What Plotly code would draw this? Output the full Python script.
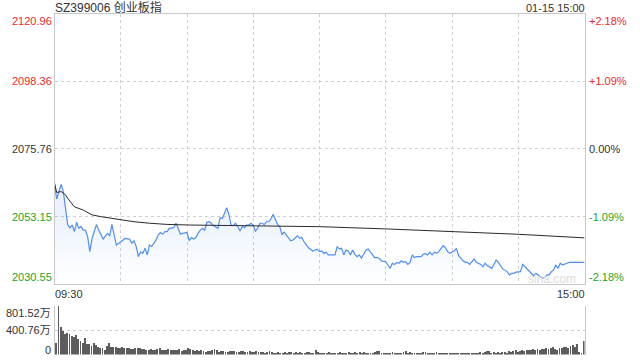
import plotly.graph_objects as go

# ---------------- data ----------------
title_text = "SZ399006 创业板指"
date_text = "01-15 15:00"
prev_close = 2075.76
y_ticks = [2120.96, 2098.36, 2075.76, 2053.15, 2030.55]
pct_ticks = ["+2.18%", "+1.09%", "0.00%", "-1.09%", "-2.18%"]
vol_ticks = [801.52, 400.76, 0]
vol_tick_labels = ["801.52万", "400.76万", "0"]
time_labels = ["09:30", "15:00"]

# minute index (0 = 09:30, 120 = 11:30/13:00, 240 = 15:00)
price_min = [0, 1, 2, 3, 4, 5, 6, 7, 8, 9, 10, 11, 12, 13, 14, 15, 16, 17, 19, 20,
             21, 22, 23, 24, 25, 26, 27, 28, 30, 31, 32, 34, 35, 36, 37, 38, 39, 40, 41, 42,
             43, 44, 46, 47, 48, 49, 50, 51, 52, 54, 55, 56, 57, 58, 60, 61, 62, 63, 64, 65,
             66, 67, 68, 69, 70, 71, 72, 74, 75, 76, 77, 78, 79, 80, 81, 82, 83, 84, 85, 86,
             87, 88, 89, 90, 91, 92, 93, 94, 95, 96, 97, 98, 99, 100, 101, 102, 103, 104, 105, 106,
             107, 108, 109, 110, 111, 112, 113, 114, 115, 117, 118, 119, 120, 121, 122, 123, 124, 126, 127, 128,
             129, 130, 131, 132, 133, 134, 135, 136, 137, 138, 139, 140, 141, 142, 143, 144, 145, 146, 147, 148,
             150, 151, 152, 153, 154, 155, 156, 157, 158, 159, 160, 161, 162, 163, 164, 166, 167, 168, 169, 170,
             171, 172, 173, 174, 175, 176, 177, 178, 179, 180, 181, 182, 183, 184, 185, 186, 187, 188, 189, 190,
             191, 192, 193, 194, 195, 196, 197, 198, 199, 200, 201, 202, 203, 205, 206, 207, 208, 209, 210, 211,
             212, 213, 214, 215, 216, 217, 218, 219, 220, 221, 222, 223, 224, 225, 226, 227, 228, 229, 230, 231,
             232, 233, 235, 237, 240]
price = [2064.3, 2059.0, 2061.5, 2063.9, 2061.5, 2055.9, 2050.3, 2049.4, 2050.3, 2048.1,
         2051.2, 2049.2, 2049.8, 2048.6, 2048.6, 2046.4, 2041.4, 2045.8, 2050.5, 2048.6,
         2047.0, 2045.6, 2046.6, 2047.5, 2046.7, 2050.5, 2047.0, 2043.6, 2044.7, 2045.3,
         2045.8, 2045.6, 2044.2, 2045.0, 2043.1, 2039.7, 2041.4, 2040.8, 2042.5, 2040.3,
         2043.6, 2043.1, 2045.3, 2047.0, 2047.8, 2047.2, 2048.1, 2048.1, 2049.2, 2049.4,
         2050.9, 2049.2, 2047.2, 2047.5, 2047.8, 2045.1, 2046.1, 2045.6, 2046.1, 2047.5,
         2048.6, 2049.2, 2048.6, 2051.2, 2051.4, 2050.9, 2050.1, 2049.2, 2052.8, 2052.5,
         2054.6, 2056.1, 2053.7, 2050.3, 2050.1, 2050.9, 2049.8, 2048.3, 2049.8, 2049.4,
         2050.3, 2050.3, 2050.9, 2050.1, 2048.3, 2049.2, 2050.9, 2050.9, 2050.5, 2051.4,
         2051.4, 2052.3, 2053.9, 2052.0, 2050.5, 2049.8, 2047.2, 2047.9, 2047.0, 2045.9,
         2045.0, 2045.3, 2045.9, 2046.7, 2045.9, 2046.1, 2044.7, 2043.6, 2042.7, 2041.6,
         2041.9, 2042.2, 2041.4, 2041.6, 2040.8, 2041.2, 2040.3, 2040.3, 2040.3, 2043.0,
         2042.3, 2042.5, 2040.3, 2041.9, 2041.6, 2040.3, 2041.9, 2040.5, 2039.7, 2040.3,
         2039.2, 2040.5, 2041.9, 2042.3, 2041.2, 2040.3, 2039.4, 2039.4, 2039.2, 2038.3,
         2038.0, 2036.9, 2035.8, 2037.5, 2037.1, 2037.8, 2037.5, 2038.3, 2037.8, 2038.0,
         2037.1, 2037.8, 2040.3, 2039.4, 2039.7, 2039.7, 2040.5, 2040.8, 2040.3, 2041.2,
         2040.3, 2041.2, 2040.8, 2041.4, 2042.3, 2043.4, 2042.7, 2041.4, 2040.8, 2041.2,
         2041.6, 2042.5, 2040.0, 2039.2, 2038.3, 2037.8, 2037.8, 2037.1, 2038.0, 2038.9,
         2037.8, 2037.5, 2037.1, 2036.3, 2037.5, 2036.7, 2036.3, 2035.8, 2037.1, 2038.6,
         2037.8, 2036.9, 2035.6, 2034.7, 2033.6, 2034.1, 2034.1, 2034.5, 2034.7, 2034.7,
         2037.1, 2036.3, 2035.6, 2034.7, 2033.8, 2033.3, 2034.1, 2033.6, 2033.0, 2032.5,
         2032.7, 2033.6, 2033.6, 2034.7, 2035.2, 2036.9, 2035.8, 2037.5, 2036.9, 2037.1,
         2037.5, 2037.8, 2037.8, 2037.7, 2037.8]

avg_min = [0, 1, 3, 5, 6, 9, 13, 16, 17, 21, 28, 36, 43, 51, 61, 90, 120, 150, 181, 210, 240]
avg_price = [2064.3, 2061.2, 2061.5, 2060.4, 2059.2, 2056.4, 2055.3, 2054.2, 2053.7, 2053.1,
             2052.3, 2051.4, 2050.9, 2050.5, 2050.3, 2050.1, 2049.75, 2049.0, 2048.1, 2047.2,
             2046.0]

volume = [190, 801.52, 450, 395, 340, 363, 336, 314, 287, 325, 255, 233, 200, 282, 173, 184, 152, 195, 162, 135,
          119, 108, 81, 152, 190, 135, 135, 125, 120, 110, 125, 108, 115, 120, 105, 95, 108, 115, 120, 105,
          100, 85, 75, 98, 85, 80, 102, 108, 90, 85, 80, 98, 75, 85, 78, 90, 100, 70, 75, 85,
          115, 95, 80, 65, 85, 60, 75, 70, 55, 65, 72, 85, 100, 75, 55, 70, 62, 55, 48, 65,
          60, 58, 52, 55, 65, 60, 50, 45, 58, 55, 50, 60, 42, 48, 55, 40, 45, 70, 50, 38,
          35, 45, 28, 40, 48, 36, 52, 44, 32, 48, 40, 55, 38, 34, 44, 52, 36, 32, 80, 45,
          28, 40, 24, 26, 45, 22, 32, 38, 26, 45, 30, 35, 40, 50, 28, 36, 48, 32, 44, 26,
          55, 34, 40, 24, 28, 48, 70, 60, 28, 24, 32, 26, 30, 45, 34, 40, 24, 36, 48, 58,
          28, 44, 34, 24, 38, 28, 26, 48, 55, 40, 32, 26, 36, 50, 30, 40, 26, 34, 28, 38,
          24, 32, 40, 30, 26, 34, 28, 38, 32, 26, 40, 28, 34, 55, 32, 45, 72, 60, 36, 50,
          32, 52, 40, 56, 45, 34, 60, 48, 65, 75, 55, 70, 80, 62, 85, 90, 82, 95, 88, 100,
          80, 105, 92, 110, 98, 115, 125, 102, 90, 115, 110, 130, 135, 120, 145, 160, 125, 185, 45, 20, 232]
vol_min = list(range(len(volume)))

# ---------------- figure ----------------
W, H = 640, 360
X0, X1 = 54.5 / W, 584.5 / W
FONT = "Liberation Sans, Arial, Noto Sans CJK SC, sans-serif"
RED, GREEN, DARK = "#f02828", "#1ea51e", "#333333"
GRID = "#cfcfcf"

fig = go.Figure()
fig.add_trace(go.Scatter(
    x=price_min, y=price, mode="lines",
    line=dict(color="#4f8ff0", width=1.2),
    fill="tozeroy",
    fillgradient=dict(type="vertical",
                      colorscale=[[0, "rgba(80,140,240,0)"], [1, "rgba(80,140,240,0.12)"]],
                      start=y_ticks[-1], stop=2056),
    hoverinfo="skip", xaxis="x", yaxis="y"))
fig.add_trace(go.Scatter(
    x=avg_min, y=avg_price, mode="lines",
    line=dict(color="#2a2a2a", width=1),
    hoverinfo="skip", xaxis="x", yaxis="y"))
fig.add_trace(go.Bar(
    x=vol_min, y=volume, marker=dict(color="#5c5c5c", line=dict(width=0)),
    width=0.42, hoverinfo="skip", xaxis="x2", yaxis="y2"))

annotations = []
left_colors = [RED, RED, DARK, GREEN, GREEN]
right_colors = [RED, RED, DARK, GREEN, GREEN]
for i, (v, pt) in enumerate(zip(y_ticks, pct_ticks)):
    ya = "top" if i == 0 else ("bottom" if i == len(y_ticks) - 1 else "middle")
    annotations.append(dict(x=53 / W, xref="paper", xanchor="right", y=v, yref="y", yanchor=ya,
                            text=f"{v:.2f}", showarrow=False, borderpad=0,
                            font=dict(family=FONT, size=11, color=left_colors[i])))
    annotations.append(dict(x=588 / W, xref="paper", xanchor="left", y=v, yref="y", yanchor=ya,
                            text=pt, showarrow=False, borderpad=0,
                            font=dict(family=FONT, size=11, color=right_colors[i])))
for i, (v, t) in enumerate(zip(vol_ticks, vol_tick_labels)):
    ya = "top" if i == 0 else ("bottom" if i == len(vol_ticks) - 1 else "middle")
    annotations.append(dict(x=52 / W, xref="paper", xanchor="right", y=v, yref="y2", yanchor=ya,
                            text=t, showarrow=False, borderpad=0, yshift=(-2 if i == 2 else 0),
                            font=dict(family=FONT, size=11, color=DARK)))
annotations += [
    dict(x=54 / W, xref="paper", xanchor="left", y=1 - 7.5 / H, yref="paper", yanchor="middle",
         text=title_text, showarrow=False, borderpad=0, font=dict(family=FONT, size=12, color=DARK)),
    dict(x=586 / W, xref="paper", xanchor="right", y=1 - 7.5 / H, yref="paper", yanchor="middle",
         text=date_text, showarrow=False, borderpad=0, font=dict(family=FONT, size=11, color=DARK)),
    dict(x=54 / W, xref="paper", xanchor="left", y=1 - 293.5 / H, yref="paper", yanchor="middle",
         text=time_labels[0], showarrow=False, borderpad=0, font=dict(family=FONT, size=11, color=DARK)),
    dict(x=586 / W, xref="paper", xanchor="right", y=1 - 293.5 / H, yref="paper", yanchor="middle",
         text=time_labels[1], showarrow=False, borderpad=0, font=dict(family=FONT, size=11, color=DARK)),
    dict(x=552 / W, xref="paper", xanchor="center", y=1 - 279 / H, yref="paper", yanchor="middle",
         text="sina.com", showarrow=False, borderpad=0, font=dict(family=FONT, size=12, color="#dcdcdc")),
]

fig.update_layout(
    width=W, height=H, margin=dict(l=0, r=0, t=0, b=0),
    paper_bgcolor="white", plot_bgcolor="white", showlegend=False, bargap=0,
    xaxis=dict(domain=[X0, X1], range=[0, 240], tickvals=[30, 60, 90, 120, 150, 180, 210],
               showticklabels=False, showgrid=True, gridcolor=GRID, griddash="dot", gridwidth=1,
               showline=True, mirror=True, linecolor="#c8c8c8", linewidth=1, zeroline=False,
               ticks="", anchor="y", fixedrange=True),
    yaxis=dict(domain=[1 - 284 / H, 1 - 14 / H], range=[y_ticks[-1], y_ticks[0]],
               tickvals=[y_ticks[1], y_ticks[2], y_ticks[3]], showticklabels=False,
               showgrid=True, gridcolor=GRID, griddash="dot", gridwidth=1,
               showline=True, mirror=True, linecolor="#c8c8c8", linewidth=1, zeroline=False,
               ticks="", anchor="x", fixedrange=True),
    xaxis2=dict(domain=[X0, X1], range=[-0.6, 240.6], showticklabels=False, showgrid=False,
                showline=False, zeroline=False, ticks="", anchor="y2", fixedrange=True),
    yaxis2=dict(domain=[1 - 354.5 / H, 1 - 305.5 / H], range=[0, vol_ticks[0]],
                tickvals=vol_ticks, showticklabels=False, showgrid=True, gridcolor=GRID,
                griddash="dot", gridwidth=1, showline=True, mirror=True, linecolor="#c8c8c8",
                linewidth=1, zeroline=False, ticks="", anchor="x2", fixedrange=True),
    annotations=annotations,
)

fig.write_html("out.html", config={"displayModeBar": False})
